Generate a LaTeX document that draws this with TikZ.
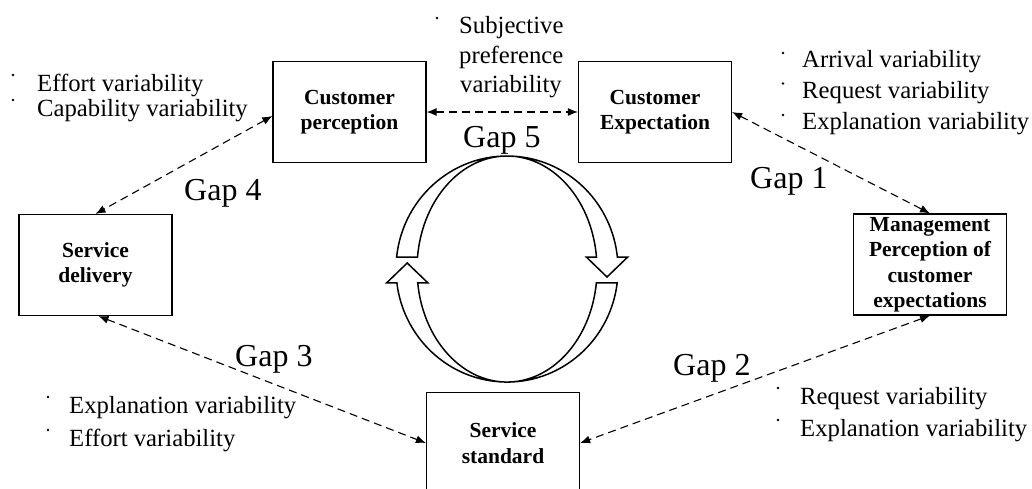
\documentclass[tikz,border=0pt]{standalone}
\usepackage{fontspec}
\setmainfont{Liberation Serif}
\usetikzlibrary{arrows.meta,calc}
\begin{document}
\begin{tikzpicture}[x=1pt,y=-1pt,
  box/.style={draw, line width=1.2pt, inner sep=0pt, minimum width=153pt, minimum height=101pt, align=center, font=\fontsize{21.5}{25.5}\selectfont\bfseries},
  txt/.style={anchor=base west, inner sep=0pt, font=\fontsize{24.7}{29}\selectfont},
  gaplbl/.style={anchor=base west, inner sep=0pt, font=\fontsize{32}{36}\selectfont},
  conn/.style={line width=1.1pt, dash pattern=on 8pt off 5pt, {Latex[length=10pt,width=8pt]}-{Latex[length=10pt,width=8pt]}},
  bul/.style={circle, fill, inner sep=0pt, minimum size=2.8pt},
  ring/.style={draw, line width=1.5pt, fill=white, line join=miter}
]
\useasboundingbox (0,0) rectangle (1032,488);

% boxes
\node[box] (per) at (349.5,112) {Customer\\perception};
\node[box] (exp) at (655,112) {Customer\\Expectation};
\node[box] (del) at (95.5,265) {Service\\delivery};
\node[box] (mgmt) at (930,264.5) {Management\\Perception of\\customer\\expectations};
\node[box] (std) at (503,443) {Service\\standard};

% connectors
\draw[conn] (per.east) -- (exp.west);
\draw[conn] (exp.east) -- (mgmt.north);
\draw[conn] ($(per.west)+(0,4)$) -- (del.north);
\draw[conn] ($(del.south)+(3,0)$) -- (std.west);
\draw[conn] (mgmt.south) -- (std.east);

% circular arrows
\draw[ring] (396.6,257.2) arc[start angle=186,end angle=354,x radius=111,y radius=113]
  -- (627.5,257.2) -- (607,277) -- (586.5,257.2) -- (596.5,257.2)
  arc[start angle=354,end angle=186,x radius=90,y radius=113] -- cycle;
\draw[ring] (617.2,282.8) arc[start angle=7,end angle=173,x radius=111,y radius=113]
  -- (386.7,282.8) -- (407.2,263) -- (427.8,282.8) -- (417.7,282.8)
  arc[start angle=173,end angle=7,x radius=90,y radius=113] -- cycle;

% gap labels
\node[gaplbl] (g5) at (463,147) {Gap 5};
\node[gaplbl] (g4) at (184,200) {Gap 4};
\node[gaplbl] (g1) at (750,188) {Gap 1};
\node[gaplbl] (g3) at (235,366) {Gap 3};
\node[gaplbl] (g2) at (673,375) {Gap 2};

% top-left list
\node[bul] (b1) at (13,75) {};
\node[txt] (t1) at (37,91.5) {Effort variability};
\node[bul] (b2) at (13,100) {};
\node[txt] (t2) at (37,116.5) {Capability variability};

% subjective
\node[bul] (b3) at (437,18) {};
\node[txt] (t3a) at (459,33) {Subjective};
\node[txt] (t3b) at (459,63) {preference};
\node[txt] (t3c) at (460,92) {variability};

% top-right list
\node[bul] (b4) at (783,53) {};
\node[txt] (t4) at (802,67.5) {Arrival variability};
\node[bul] (b5) at (783,83.5) {};
\node[txt] (t5) at (802,98.3) {Request variability};
\node[bul] (b6) at (783,115) {};
\node[txt] (t6) at (802,129) {Explanation variability};

% bottom-left list
\node[bul] (b7) at (48,397) {};
\node[txt] (t7) at (69,413) {Explanation variability};
\node[bul] (b8) at (48,430) {};
\node[txt] (t8) at (69,446) {Effort variability};

% bottom-right list
\node[bul] (b9) at (778,388) {};
\node[txt] (t9) at (800,404) {Request variability};
\node[bul] (b10) at (778,420) {};
\node[txt] (t10) at (800,436) {Explanation variability};
\end{tikzpicture}
\end{document}
